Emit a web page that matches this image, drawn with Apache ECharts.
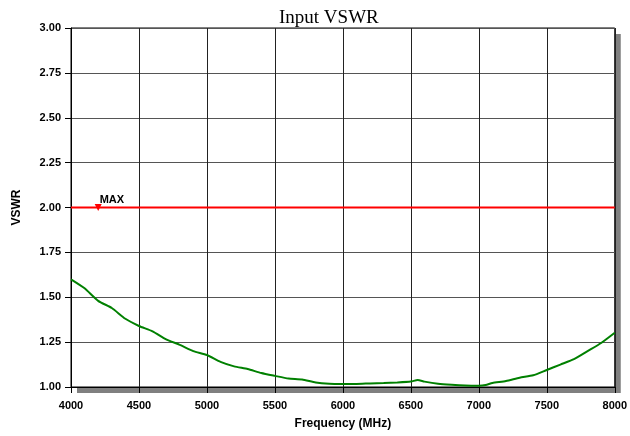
<!DOCTYPE html>
<html><head><meta charset="utf-8">
<script src="https://cdn.jsdelivr.net/npm/echarts@6/dist/echarts.min.js"></script>
<style>html,body{margin:0;padding:0;background:#fff}#c{width:630px;height:436px}</style>
</head><body><div id="c"></div>
<script>
const freqs = [4000,4100,4200,4300,4400,4500,4600,4700,4800,4900,5000,5100,5200,5300,5400,5500,5600,5700,5800,5900,6000,6100,6200,6300,6400,6500,6550,6600,6700,6800,6900,7000,7050,7100,7200,7300,7400,7500,7600,7700,7800,7900,8000];
const vswr = [1.60,1.55,1.48,1.44,1.38,1.34,1.31,1.265,1.235,1.20,1.178,1.14,1.115,1.10,1.078,1.062,1.047,1.042,1.025,1.018,1.017,1.017,1.02,1.022,1.025,1.03,1.039,1.03,1.018,1.012,1.008,1.007,1.011,1.022,1.033,1.052,1.065,1.095,1.125,1.155,1.20,1.245,1.302];
const limitFreqs = [4000, 8000];
const limitValues = [2.0, 2.0];
const markerFreq = 4200;
const markerLabel = 'MAX';
const xTicks = {min: 4000, max: 8000, interval: 500};
const yTicks = {min: 1.0, max: 3.0, interval: 0.25};

const chart = echarts.init(document.getElementById('c'), null, {renderer: 'canvas'});
const lab = {fontFamily: 'Liberation Sans', fontWeight: 'bold', fontSize: 11, color: '#000'};
const nameLab = Object.assign({}, lab, {fontSize: 12});
const option = {
  animation: false,
  backgroundColor: '#fff',
  title: {
    text: 'Input VSWR', left: 274, top: 4,
    textStyle: {fontFamily: 'Liberation Serif', fontWeight: 'normal', fontSize: 19, color: '#000'}
  },
  grid: {
    left: 71, top: 28, right: 13, bottom: 49, show: true,
    backgroundColor: '#fff', borderColor: '#000', borderWidth: 1
  },
  xAxis: {
    type: 'value', min: xTicks.min, max: xTicks.max, interval: xTicks.interval,
    name: 'Frequency (MHz)', nameLocation: 'middle', nameGap: 31,
    nameTextStyle: nameLab,
    axisLine: {lineStyle: {color: '#000', width: 1}},
    axisTick: {show: true, length: 6, lineStyle: {color: '#000'}},
    axisLabel: Object.assign({margin: 13, formatter: v => String(v)}, lab),
    splitLine: {show: true, lineStyle: {color: '#222', width: 1}}
  },
  yAxis: {
    type: 'value', min: yTicks.min, max: yTicks.max, interval: yTicks.interval,
    name: 'VSWR', nameLocation: 'middle', nameGap: 48,
    nameTextStyle: nameLab,
    axisLine: {show: true, lineStyle: {color: '#000', width: 1}},
    axisTick: {show: true, length: 6, lineStyle: {color: '#000'}},
    axisLabel: Object.assign({margin: 10, formatter: v => v.toFixed(2)}, lab),
    splitLine: {show: true, lineStyle: {color: '#555', width: 1}}
  },
  series: [
    {
      type: 'line', data: limitFreqs.map((f, i) => [f, limitValues[i]]),
      showSymbol: false, lineStyle: {color: '#ff0000', width: 2}, z: 3
    },
    {
      type: 'line', data: freqs.map((f, i) => [f, vswr[i]]),
      showSymbol: false, smooth: 0.2, lineStyle: {color: '#008000', width: 2}, z: 4
    },
    {
      type: 'scatter', data: [[markerFreq, limitValues[0]]],
      symbol: 'triangle', symbolRotate: 180, symbolSize: 7,
      itemStyle: {color: '#ff0000', opacity: 1}, z: 5,
      label: Object.assign({show: true, formatter: markerLabel, position: [5, -10], opacity: 1}, lab)
    }
  ]
};
chart.setOption(option);
// drop shadow behind plot area, placed from the axis scales
const p0 = chart.convertToPixel({xAxisIndex: 0, yAxisIndex: 0}, [xTicks.min, yTicks.max]);
const p1 = chart.convertToPixel({xAxisIndex: 0, yAxisIndex: 0}, [xTicks.max, yTicks.min]);
chart.setOption({
  graphic: [{
    type: 'rect', z: -10, silent: true,
    shape: {x: p0[0] + 6, y: p0[1] + 6, width: p1[0] - p0[0], height: p1[1] - p0[1]},
    style: {fill: '#808080'}
  }]
});
</script></body></html>
